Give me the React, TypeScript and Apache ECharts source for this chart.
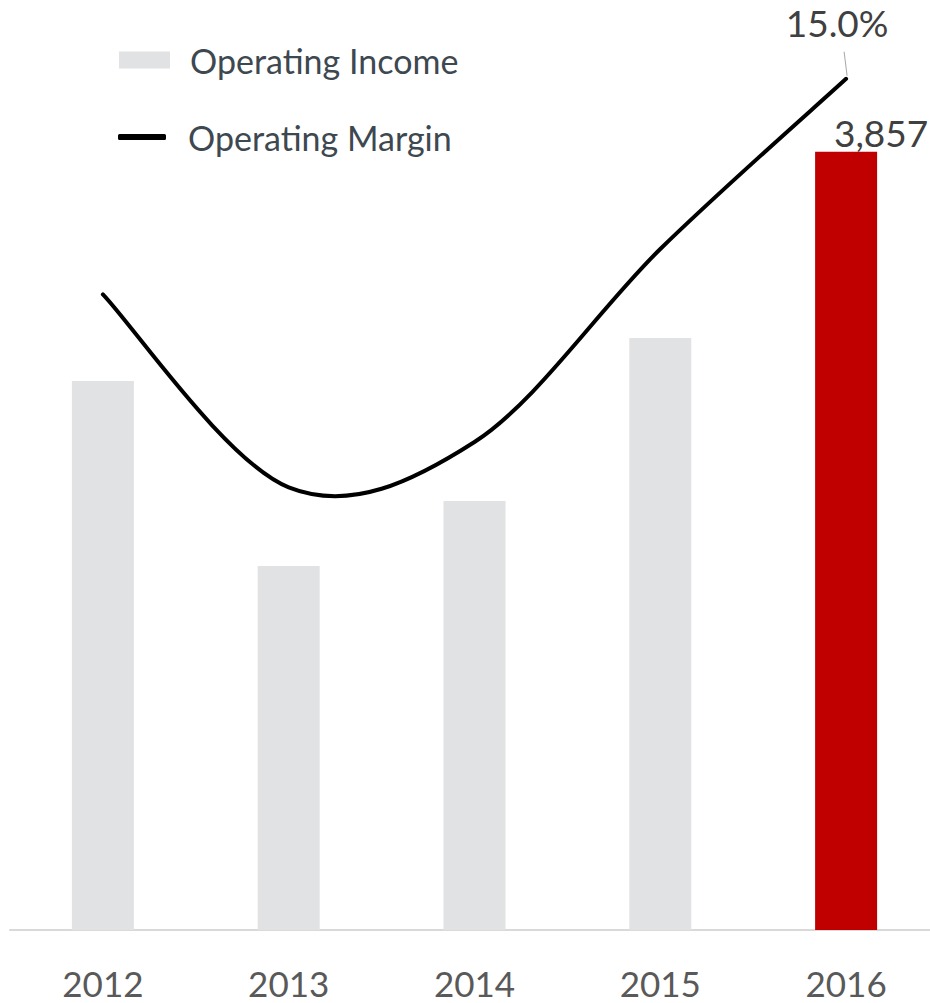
import React, { useEffect, useRef } from "react";
import * as echarts from "echarts";

const years = ["2012", "2013", "2014", "2015", "2016"];
const operatingIncome = [2721, 1804, 2126, 2934, 3857];
const operatingMargin = [11.2, 7.8, 8.6, 12.0, 15.0];
const barColors = ["#e1e2e4", "#e1e2e4", "#e1e2e4", "#e1e2e4", "#c00000"];

const FONT = "Lato";

function smoothPath(pts: number[][]): string {
  // Catmull-Rom style (tension 1/6) cubic bezier through all points
  let d = `M${pts[0][0]},${pts[0][1]}`;
  for (let i = 0; i < pts.length - 1; i++) {
    const p0 = pts[Math.max(0, i - 1)];
    const p1 = pts[i];
    const p2 = pts[i + 1];
    const p3 = pts[Math.min(pts.length - 1, i + 2)];
    const c1x = p1[0] + (p2[0] - p0[0]) / 6;
    const c1y = p1[1] + (p2[1] - p0[1]) / 6;
    const c2x = p2[0] - (p3[0] - p1[0]) / 6;
    const c2y = p2[1] - (p3[1] - p1[1]) / 6;
    d += ` C${c1x},${c1y} ${c2x},${c2y} ${p2[0]},${p2[1]}`;
  }
  return d;
}

export default function App() {
  const ref = useRef<HTMLDivElement>(null);
  useEffect(() => {
    if (!ref.current) return;
    const chart = echarts.init(ref.current, null, { renderer: "svg" });
    const last = years.length - 1;
    chart.setOption({
      animation: false,
      backgroundColor: "#ffffff",
      grid: { left: 10, right: 1, top: 22, bottom: 73, containLabel: false },
      legend: [
        {
          data: [{ name: "Operating Income", icon: "rect", itemStyle: { color: "#e1e2e4" } }],
          left: 119,
          top: 43,
          padding: 0,
          itemWidth: 51,
          itemHeight: 17,
          textStyle: { color: "#3d4850", fontSize: 34, fontFamily: FONT, padding: [0, 0, 0, 15] },
          selectedMode: false,
        },
        {
          data: [{ name: "Operating Margin", icon: "roundRect", itemStyle: { color: "#000000" } }],
          left: 118,
          top: 120,
          padding: 0,
          itemWidth: 48,
          itemHeight: 6,
          textStyle: { color: "#3d4850", fontSize: 34, fontFamily: FONT, padding: [0, 0, 0, 17] },
          selectedMode: false,
        },
      ],
      xAxis: {
        type: "category",
        data: years,
        axisLine: { show: true, lineStyle: { color: "#d9d9d9", width: 2 } },
        axisTick: { show: false },
        axisLabel: { color: "#595959", fontSize: 35, lineHeight: 30, fontFamily: FONT, margin: 38 },
      },
      yAxis: [
        { type: "value", min: 0, max: 4500, show: false },
        { type: "value", min: 0, max: 16, show: false },
      ],
      series: [
        {
          name: "Operating Income",
          type: "bar",
          yAxisIndex: 0,
          barWidth: 62,
          itemStyle: { color: "#e1e2e4" },
          data: operatingIncome.map((v, i) => ({
            value: v,
            itemStyle: { color: barColors[i] },
            label:
              i === last
                ? {
                    show: true,
                    position: "top",
                    offset: [35, 4],
                    formatter: (p: any) => p.value.toLocaleString("en-US"),
                    color: "#404040",
                    fontSize: 37,
                    fontFamily: FONT,
                  }
                : { show: false },
          })),
        },
        {
          name: "Operating Margin",
          type: "custom",
          yAxisIndex: 1,
          itemStyle: { color: "#000000" },
          encode: { x: 0, y: 1 },
          data: operatingMargin.map((v, i) => [i, v]),
          renderItem: (params: any, api: any) => {
            if (params.dataIndex !== 0) return null;
            const pts = operatingMargin.map((v, i) => api.coord([i, v]));
            const end = pts[pts.length - 1];
            return {
              type: "group",
              children: [
                {
                  type: "path",
                  shape: { pathData: smoothPath(pts) },
                  style: { stroke: "#000000", lineWidth: 4, fill: "none", lineCap: "round" },
                },
                {
                  type: "line",
                  shape: { x1: end[0] - 2, y1: end[1] - 27, x2: end[0] + 1, y2: end[1] - 3 },
                  style: { stroke: "#a6a6a6", lineWidth: 1 },
                },
                {
                  type: "text",
                  x: end[0] - 9,
                  y: end[1] - 56,
                  style: {
                    text: operatingMargin[last].toFixed(1) + "%",
                    fill: "#404040",
                    fontSize: 37,
                    fontFamily: FONT,
                    align: "center",
                    verticalAlign: "middle",
                  },
                },
              ],
            };
          },
        },
      ],
    });
    return () => chart.dispose();
  }, []);
  return (
    <div style={{ position: "fixed", left: 0, top: 0, width: 930, height: 1003, overflow: "hidden", background: "#fff" }}>
      <div ref={ref} style={{ width: 940, height: 1003 }} />
    </div>
  );
}
